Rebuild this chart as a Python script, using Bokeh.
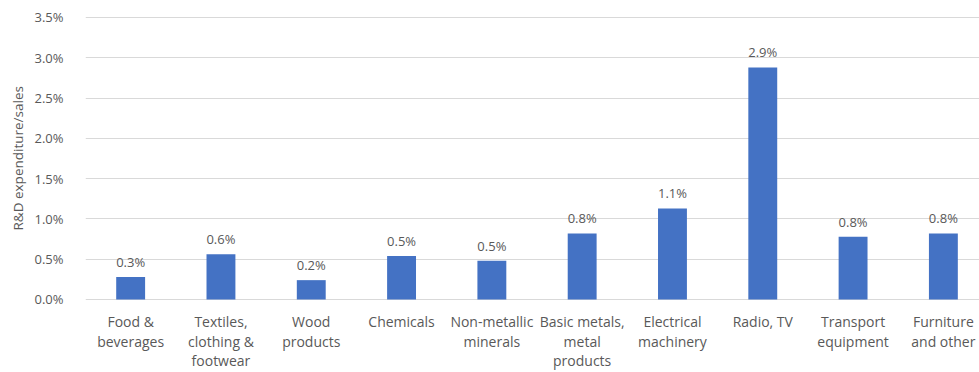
from bokeh.plotting import figure
from bokeh.models import ColumnDataSource, Range1d, FixedTicker, PrintfTickFormatter, Title
from bokeh.core.properties import value
from bokeh.embed import file_html
from bokeh.resources import INLINE

# R&D intensity by manufacturing sector (percent of sales)
sectors = [
    "Food &\nbeverages",
    "Textiles,\nclothing &\nfootwear",
    "Wood\nproducts",
    "Chemicals",
    "Non-metallic\nminerals",
    "Basic metals,\nmetal\nproducts",
    "Electrical\nmachinery",
    "Radio, TV",
    "Transport\nequipment",
    "Furniture\nand other",
]
rd_share = [0.28, 0.56, 0.24, 0.54, 0.48, 0.82, 1.13, 2.88, 0.78, 0.82]
y_ticks = [0.0, 0.5, 1.0, 1.5, 2.0, 2.5, 3.0, 3.5]

FONT = "Open Sans"
GREY = "#595959"

xs = [i + 0.5 for i in range(len(sectors))]
src = ColumnDataSource(dict(
    x=xs,
    top=rd_share,
    zero=[0.0] * len(xs),
    label=[f"{v:.1f}%" for v in rd_share],
    name=sectors,
))

# the frame runs to the bottom edge; the space below zero holds the sector names
p = figure(
    width=979, height=372,
    output_backend="svg", toolbar_location=None,
    x_range=Range1d(0, 9.9), y_range=Range1d(-0.906, 3.524),
    x_axis_location=None,
    min_border_left=85, min_border_right=0,
    min_border_top=15, min_border_bottom=0,
)
p.outline_line_color = None
p.background_fill_color = "white"
p.border_fill_color = "white"

p.vbar(x="x", top="top", width=0.32, bottom=0, source=src,
       fill_color="#4472C4", line_color=None)

# value labels above the bars
p.text(x="x", y="top", text="label", source=src,
       text_align="center", text_baseline="bottom", y_offset=-6,
       text_font=value(FONT), text_font_size="13px", text_color=GREY)

# sector names under the baseline
p.text(x="x", y="zero", text="name", source=src,
       text_align="center", text_baseline="top", y_offset=13,
       text_font=value(FONT), text_font_size="14px", text_color=GREY,
       text_line_height=1.02)

# y axis
p.yaxis.ticker = FixedTicker(ticks=y_ticks)
p.yaxis.formatter = PrintfTickFormatter(format="%.1f%%")
p.yaxis.axis_line_color = None
p.yaxis.major_tick_line_color = None
p.yaxis.minor_tick_line_color = None
p.yaxis.major_label_text_font = FONT
p.yaxis.major_label_text_font_size = "13px"
p.yaxis.major_label_text_color = GREY
p.yaxis.major_label_standoff = 16

# y title, raised so it sits beside the 0-3.5% span
p.add_layout(Title(
    text="R&D expenditure/sales", align="left", offset=142, standoff=10,
    text_font=FONT, text_font_size="13.5px", text_font_style="normal",
    text_color=GREY,
), "left")

p.xgrid.grid_line_color = None
p.ygrid.grid_line_color = "#d9d9d9"
p.ygrid.grid_line_width = 1

open("out.html", "w").write(file_html(p, INLINE))
